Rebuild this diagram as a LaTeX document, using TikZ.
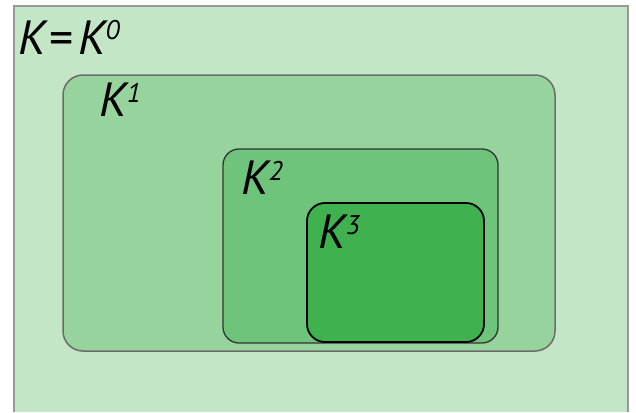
\documentclass[tikz,border=0pt]{standalone}
\usepackage{fontspec}
\setmainfont{PT Sans}
\definecolor{gZero}{HTML}{C3E7C6}
\definecolor{gOne}{HTML}{97D39D}
\definecolor{gTwo}{HTML}{6EC47A}
\definecolor{gThree}{HTML}{3FB14E}
\newcommand{\setlbl}[2]{\itshape #1\kern0pt\raisebox{14pt}{\fontsize{27}{27}\selectfont #2}}
\begin{document}
\begin{tikzpicture}[x=1pt,y=-1pt,
  lbl/.style={anchor=base west,inner sep=0pt,font=\fontsize{48}{48}\selectfont},
  level/.style={rounded corners=#1}]
\useasboundingbox (0,0) rectangle (636,412);
% outermost set K = K^0, open at the bottom edge
\fill[gZero] (14,6) rectangle (628,412);
\draw[color=black!40,line width=1.2pt] (14,412) -- (14,6) -- (628,6) -- (628,412);
% nested sets
\draw[level=20pt,fill=gOne,draw=black!58,line width=1.5pt] (63,75) rectangle (555,351);
\draw[level=16pt,fill=gTwo,draw=black!80,line width=1.3pt] (223,149) rectangle (498,343);
\draw[level=18pt,fill=gThree,draw=black,line width=1.8pt] (307,203) rectangle (484,342);
% labels
\node[lbl] (k0) at (18,54) {\setlbl{K\kern4pt\upshape=\kern4pt\itshape K}{0}};
\node[lbl] (k1) at (99,116) {\setlbl{K}{1}};
\node[lbl] (k2) at (241,194) {\setlbl{K}{2}};
\node[lbl] (k3) at (318,248) {\setlbl{K}{3}};
\end{tikzpicture}
\end{document}
